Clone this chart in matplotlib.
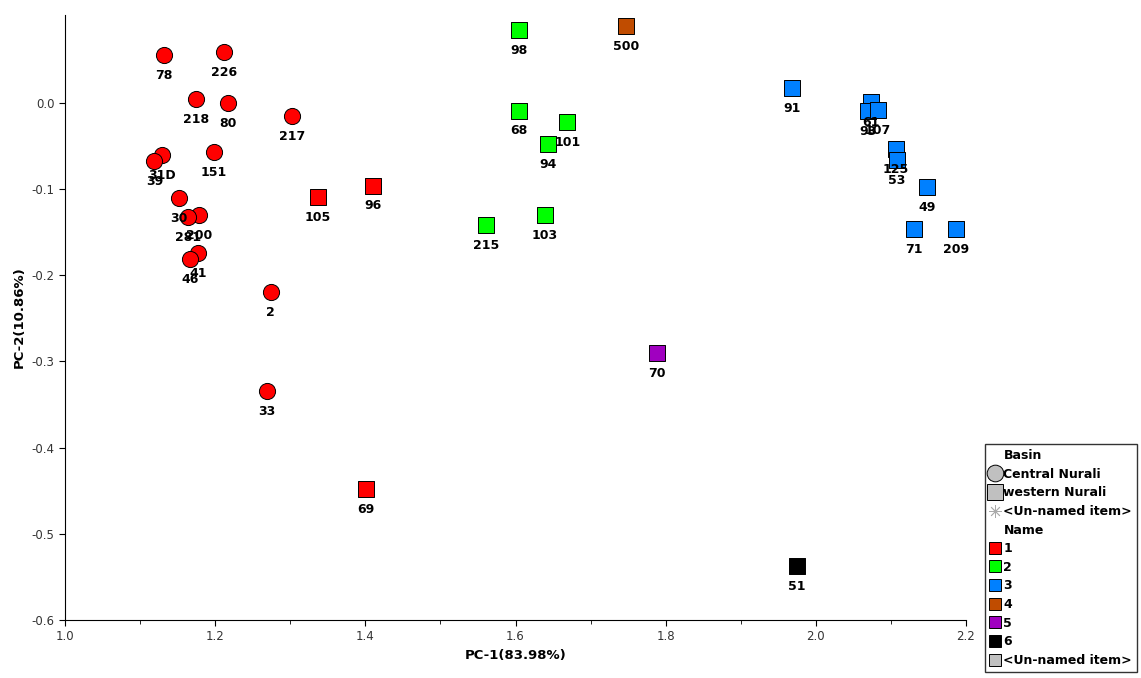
import numpy as np
import matplotlib.pyplot as plt
from matplotlib.lines import Line2D

# sample labels, PC scores, group (Name) and basin
names = ["78", "226", "218", "80", "217", "151", "31D", "39", "30", "200", "281", "41", "46", "2", "33",
         "105", "96", "69",
         "98", "68", "101", "94", "215", "103",
         "500", "70", "51",
         "91", "61", "93", "107", "125", "53", "49", "71", "209"]
pc1 = [1.132, 1.212, 1.174, 1.217, 1.302, 1.198, 1.129, 1.119, 1.152, 1.178, 1.164, 1.177, 1.166, 1.274, 1.269,
       1.337, 1.410, 1.401,
       1.605, 1.605, 1.669, 1.643, 1.561, 1.639,
       1.747, 1.788, 1.975,
       1.968, 2.074, 2.070, 2.083, 2.107, 2.108, 2.148, 2.131, 2.187]
pc2 = [0.055, 0.059, 0.004, 0.000, -0.015, -0.057, -0.061, -0.068, -0.110, -0.130, -0.133, -0.174, -0.181, -0.220, -0.334,
       -0.109, -0.096, -0.448,
       0.084, -0.009, -0.022, -0.048, -0.142, -0.130,
       0.089, -0.290, -0.537,
       0.017, 0.001, -0.010, -0.008, -0.054, -0.066, -0.098, -0.146, -0.146]
group = [1] * 15 + [1] * 3 + [2] * 6 + [4, 5, 6] + [3] * 9
basin = ["Central Nurali"] * 15 + ["western Nurali"] * 21

group_colors = {1: "#FF0000", 2: "#00FF00", 3: "#0080FF", 4: "#C04C00", 5: "#A000C0", 6: "#000000"}
basin_markers = {"Central Nurali": "o", "western Nurali": "s"}

fig = plt.figure(figsize=(11.41, 6.78), dpi=100)
ax = fig.add_axes([0.057, 0.0855, 0.7896, 0.8925])

for i in range(len(names)):
    ax.scatter(pc1[i], pc2[i], s=135, marker=basin_markers[basin[i]],
               c=group_colors[group[i]], edgecolors="black", linewidths=0.7, zorder=3)
    ax.annotate(names[i], (pc1[i], pc2[i]), xytext=(0, -10), textcoords="offset points",
                ha="center", va="top", fontsize=9, fontweight="bold", zorder=4)

ax.set_xlim(1.0, 2.2)
ax.set_ylim(-0.6, 0.102)
ax.set_xticks(np.round(np.arange(1.0, 2.21, 0.2), 1))
ax.set_xticks(np.round(np.arange(1.1, 2.2, 0.2), 1), minor=True)
ax.set_yticks(np.round(np.arange(-0.6, 0.01, 0.1), 1))
ax.xaxis.set_major_formatter(plt.FuncFormatter(lambda v, p: f"{v + 0.0:.1f}"))
ax.yaxis.set_major_formatter(plt.FuncFormatter(lambda v, p: f"{round(v, 1) + 0.0:.1f}"))
ax.tick_params(labelsize=8.5, labelcolor="#333333", direction="out", length=4)
ax.tick_params(which="minor", length=3)
ax.spines["top"].set_visible(False)
ax.spines["right"].set_visible(False)
ax.set_xlabel("PC-1(83.98%)", fontsize=9.5, fontweight="bold")
ax.set_ylabel("PC-2(10.86%)", fontsize=9.5, fontweight="bold")

gray = "#C0C0C0"
handles = [
    Line2D([], [], linestyle="none", marker=None),
    Line2D([], [], linestyle="none", marker="o", markersize=12, markerfacecolor=gray, markeredgecolor="black", markeredgewidth=0.7),
    Line2D([], [], linestyle="none", marker="s", markersize=12, markerfacecolor=gray, markeredgecolor="black", markeredgewidth=0.7),
    Line2D([], [], linestyle="none", marker=(8, 2, 0), markersize=9, markeredgecolor="#AAAAAA", markeredgewidth=0.6),
    Line2D([], [], linestyle="none", marker=None),
]
labels = ["Basin", "Central Nurali", "western Nurali", "<Un-named item>", "Name"]
for g in range(1, 7):
    handles.append(Line2D([], [], linestyle="none", marker="s", markersize=9,
                          markerfacecolor=group_colors[g], markeredgecolor="black", markeredgewidth=0.7))
    labels.append(str(g))
handles.append(Line2D([], [], linestyle="none", marker="s", markersize=9,
                      markerfacecolor=gray, markeredgecolor="black", markeredgewidth=0.7))
labels.append("<Un-named item>")

leg = fig.legend(handles, labels, loc="lower left", bbox_to_anchor=(0.863, 0.009),
                 prop={"weight": "bold", "size": 9}, frameon=True, fancybox=False,
                 edgecolor="black", handlelength=0.9, handletextpad=0.2, labelspacing=0.45,
                 borderpad=0.4, borderaxespad=0)
leg.get_frame().set_linewidth(1.0)

plt.savefig("out.png", dpi=100)
